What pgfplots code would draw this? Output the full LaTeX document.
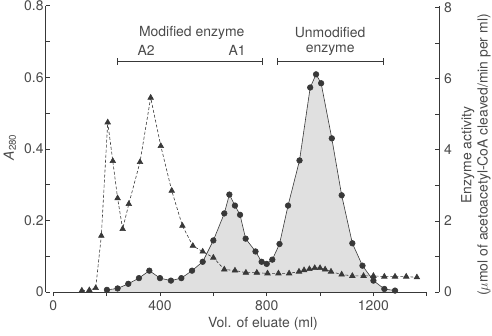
\documentclass[border=0pt]{standalone}
\usepackage{pgfplots}
\pgfplotsset{compat=1.18}
\usepackage{fontspec}
\setmainfont{TeX Gyre Heros}
\definecolor{ink}{HTML}{383838}
\definecolor{txt}{HTML}{4A4A4A}
\definecolor{shade}{HTML}{E0E0E0}
\begin{document}
\fontsize{14}{16.5}\selectfont
\begin{tikzpicture}
\useasboundingbox (-45.7bp,-44bp) rectangle (446.3bp,292bp);
\pgfplotsset{base/.style={scale only axis, width=393.6bp, height=286.3bp,
  at={(0,0)}, anchor=south west, xmin=-28.5, xmax=1447,
  /pgf/number format/assume math mode=true,
  /pgf/number format/1000 sep={},
  every tick/.style={ink, line width=0.6pt},
  axis line style={ink, line width=0.6pt},
  tick label style={txt},
  major tick length=4bp, minor tick length=4bp,
  clip mode=individual}}
% Enzyme activity (right axis)
\begin{axis}[base, axis x line=none, xtick=\empty, axis y line*=right,
  ymin=0, ymax=8.05, ytick={0,2,4,6,8}, minor ytick={1,3,5,7},
  ytick align=inside]
\addplot[draw=none, fill=shade] coordinates {
(201,0.06)(241,0.10)(281,0.23)(321,0.39)(360,0.60)(400,0.39)(441,0.32)(480,0.39)
(520,0.60)(560,0.85)(600,1.45)(641,2.21)(660,2.74)(681,2.43)(700,2.17)(721,1.50)
(758,1.14)(781,0.85)(800,0.79)(821,0.91)(848,1.35)(880,2.43)(923,3.70)(963,5.75)
(985,6.12)(1004,5.87)(1044,4.32)(1081,2.72)(1121,1.37)(1159,0.74)(1200,0.32)
(1241,0.085)(1281,0.04)} \closedcycle;
\addplot[ink, line width=0.6pt, mark=*, mark size=2.8bp, mark options={fill=ink}] coordinates {
(201,0.06)(241,0.10)(281,0.23)(321,0.39)(360,0.60)(400,0.39)(441,0.32)(480,0.39)
(520,0.60)(560,0.85)(600,1.45)(641,2.21)(660,2.74)(681,2.43)(700,2.17)(721,1.50)
(758,1.14)(781,0.85)(800,0.79)(821,0.91)(848,1.35)(880,2.43)(923,3.70)(963,5.75)
(985,6.12)(1004,5.87)(1044,4.32)(1081,2.72)(1121,1.37)(1159,0.74)(1200,0.32)
(1241,0.085)(1281,0.04)};
\node[rotate=90, align=center, txt] at (axis description cs:1.093,0.4785)
  {Enzyme activity\\($\mu$mol of acetoacetyl-CoA cleaved/min per ml)};
\end{axis}
% A280 (left axis)
\begin{axis}[base, axis x line*=bottom, axis y line*=left,
  x axis line style={draw=none},
  ymin=0, ymax=0.8, ytick={0,0.2,0.4,0.6,0.8}, minor ytick={0.1,0.3,0.5,0.7},
  ytick align=inside, yticklabel style={/pgf/number format/fixed, inner sep=2pt},
  xtick={0,400,800,1200}, minor xtick={200,600,1000,1400}, xtick align=outside]
\addplot[ink, line width=0.6pt, dash pattern=on 3bp off 2bp, mark=triangle*, mark size=3.2bp,
  mark options={solid, fill=ink}] coordinates {
(107,0.004)(135,0.005)(159,0.011)(180,0.157)(204,0.474)(223,0.366)(241,0.262)(260,0.176)
(283,0.246)(325,0.363)(365,0.543)(403,0.408)(444,0.283)(484,0.185)(523,0.129)(560,0.113)
(600,0.096)(641,0.063)(681,0.060)(722,0.054)(763,0.054)(803,0.052)(844,0.052)(884,0.052)
(921,0.057)(940,0.061)(960,0.064)(980,0.067)(1000,0.067)(1019,0.063)(1041,0.057)
(1081,0.049)(1121,0.045)(1163,0.045)(1200,0.045)(1241,0.043)(1281,0.043)(1323,0.043)
(1363,0.041)};
\draw[ink, line width=0.6pt] (axis cs:0,0) -- (axis cs:1400,0);
\draw[ink, line width=0.6pt, |-|] (axis cs:239,0.644) -- (axis cs:786,0.644);
\draw[ink, line width=0.6pt, |-|] (axis cs:839,0.644) -- (axis cs:1240,0.644);
\node[txt] at (axis cs:519,0.724) {Modified enzyme};
\node[txt] at (axis cs:348,0.675) {A2};
\node[txt] at (axis cs:689,0.675) {A1};
\node[txt] at (axis cs:1038,0.724) {Unmodified};
\node[txt] at (axis cs:1038,0.675) {enzyme};
\node[rotate=90, txt] at (axis description cs:-0.091,0.506) {\textit{A}\textsubscript{280}};
\node[txt] at (axis description cs:0.552,-0.112) {Vol. of eluate (ml)};
\end{axis}
\end{tikzpicture}
\end{document}
